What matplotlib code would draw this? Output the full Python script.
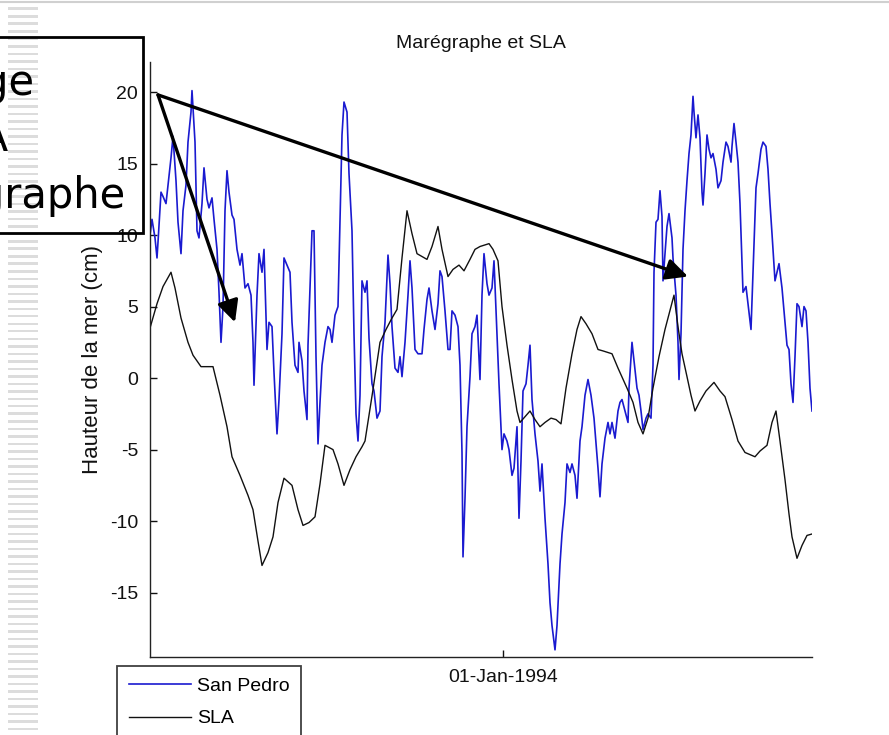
import numpy as np
import pandas as pd
import matplotlib
matplotlib.use("Agg")
import matplotlib.pyplot as plt
import matplotlib.dates as mdates
from matplotlib.lines import Line2D
from matplotlib.patches import Rectangle

plt.rcParams["axes.unicode_minus"] = False

# day 0 of the series
start = pd.Timestamp("1993-01-13")
end = pd.Timestamp("1994-11-06")

# San Pedro tide gauge (cm)
sp_days = [0, 2, 5, 7, 8, 11, 13, 16, 18, 21, 23, 26, 28, 31, 33, 36, 38, 41, 42, 45,
           47, 49, 52, 54, 57, 59, 62, 64, 67, 69, 71, 73, 75, 77, 79, 82, 84, 87, 90, 92,
           95, 98, 101, 103, 104, 107, 109, 112, 114, 117, 119, 122, 124, 127, 129, 132, 134, 137, 140, 142,
           145, 148, 149, 152, 154, 157, 158, 162, 164, 166, 168, 170, 172, 175, 178, 180, 182, 185, 188, 190,
           192, 194, 197, 199, 202, 204, 206, 208, 210, 212, 215,
           217, 219, 222, 224, 227, 230, 232, 235, 238, 240, 242, 245, 248, 250, 252, 255, 258, 260, 262,
           265, 268, 272, 274, 277, 279, 282, 285, 288, 290, 292, 295, 298, 300, 302, 305, 308, 310, 312, 313,
           315, 317, 320, 322, 325, 327, 330, 332, 334, 337, 339, 342, 344, 347, 349, 352, 354, 357, 359, 362,
           364, 367, 369, 371, 373, 376, 378, 380, 382, 385, 388, 390, 392, 395, 398, 400, 402, 405, 407, 410,
           412, 415, 417, 420, 422, 425, 427, 430, 432,
           435, 438, 441, 444, 448, 450, 452, 455, 458, 460, 462, 465, 468, 470, 472, 475, 478, 479, 482, 484,
           487, 489, 491, 493, 496, 498, 501, 503, 504, 506, 508, 510, 512, 513, 515, 517, 519, 522, 523, 526,
           528, 529, 531, 533, 535, 537, 539, 541, 543, 544, 546, 548, 550, 552, 553, 555, 557, 559, 561, 563,
           566, 568, 571, 573, 576, 578, 581, 582, 584, 586, 588, 590, 592, 593, 596, 598, 601, 603, 606, 608,
           611, 613, 616, 618, 620, 622, 625, 627, 629, 632, 634, 637, 639, 641, 643, 645, 647, 649, 652, 654,
           656, 658, 660, 662]
sp_vals = [10.0, 11.1, 9.8, 8.4, 9.5, 13.0, 12.7, 12.2, 13.5, 15.4, 16.9, 13.8, 10.9, 8.7, 11.7, 13.5, 16.5, 18.6, 20.1, 16.5,
           10.3, 9.8, 12.2, 14.7, 12.5, 11.9, 12.6, 11.1, 9.0, 6.0, 2.5, 5.0, 11.7, 14.5, 13.0, 11.4, 11.1, 9.0, 7.9, 8.7,
           6.3, 6.6, 5.8, 2.5, -0.5, 5.8, 8.7, 7.4, 9.0, 2.0, 3.9, 3.6, 0.4, -3.9, -1.5, 3.1, 8.4, 7.9, 7.4, 3.9,
           0.9, 0.4, 2.5, 1.2, -0.9, -2.9, 2.3, 10.3, 10.3, 1.5, -4.6, -1.7, 0.9, 2.5, 3.6, 3.4, 2.5, 4.4, 5.0, 10.9,
           17.0, 19.3, 18.6, 14.3, 10.3, 3.1, -2.5, -4.4, -1.2, 6.8, 6.0,
           6.8, 2.8, -0.4, -0.9, -2.8, -2.3, 1.5, 3.9, 8.6, 6.6, 3.6, 0.7, 0.4, 1.5, 0.1, 2.5, 5.8, 8.2, 6.3,
           2.0, 1.7, 1.7, 3.4, 5.5, 6.3, 4.7, 3.4, 5.2, 7.5, 7.1, 4.7, 2.0, 2.0, 4.7, 4.4, 3.6, 0.9, -5.2, -12.5,
           -8.4, -3.4, 0.1, 3.1, 3.6, 4.4, -0.1, 5.8, 8.7, 6.6, 5.8, 6.3, 8.2, 3.1, -0.4, -5.0, -3.9, -4.4, -5.0, -6.8,
           -6.3, -3.4, -9.8, -5.8, -0.9, -0.4, 0.9, 2.3, -1.5, -3.9, -5.8, -7.9, -6.0, -9.8, -13.0, -15.7, -17.3, -19.0, -17.3, -13.0,
           -10.9, -8.7, -6.0, -6.6, -6.0, -6.8, -8.4, -4.4, -3.4,
           -1.2, -0.1, -1.2, -2.8, -6.3, -8.3, -6.0, -4.2, -3.1, -3.9, -3.1, -4.2, -2.3, -1.7, -1.5, -2.3, -3.1, -0.7, 2.5, 1.2,
           -0.7, -1.2, -2.3, -3.6, -2.8, -2.5, -2.8, 0.9, 7.4, 10.9, 11.1, 13.1, 11.3, 6.8, 8.7, 10.6, 11.5, 9.8, 8.4, 5.8,
           2.5, -0.1, 3.1, 9.0, 11.7, 13.8, 15.7, 17.0, 19.7, 18.6, 16.8, 18.4, 16.8, 13.0, 12.1, 14.3, 17.0, 16.0, 15.4, 15.7,
           14.6, 13.3, 13.8, 15.1, 16.5, 16.2, 15.1, 16.2, 17.8, 16.5, 15.1, 12.2, 8.2, 6.0, 6.4, 5.2, 3.4, 7.4, 13.3, 14.3,
           16.0, 16.5, 16.2, 14.6, 12.2, 10.1, 6.8, 7.4, 8.0, 6.3, 4.7, 2.3, 2.0, -0.4, -1.7, 1.5, 5.2, 5.0, 3.6, 5.0,
           4.7, 2.5, -0.7, -2.3]

# altimetry SLA (cm)
sla_days = [0, 7, 13, 21, 25, 31, 38, 43, 51, 63, 70, 77, 82, 90, 98, 103, 108, 112, 118, 123,
            128, 134, 142, 148, 153, 159, 165, 170, 175, 183, 188, 194, 200, 206, 212, 215, 223, 230, 236, 242,
            247, 252, 257, 262, 267, 277, 282, 288, 292, 298, 303, 309, 314, 320, 325, 330, 339, 343, 348, 352,
            357, 362, 367, 370, 375, 380, 385, 390, 395, 401, 406, 411, 416, 422, 427, 431, 436, 442, 448, 453,
            462, 468, 477, 483, 488, 493, 498, 503, 509, 515, 521, 524, 528, 532, 537, 541, 545, 550, 556, 564,
            570, 575, 582, 588, 595, 605, 610, 617, 622, 626, 630, 635, 639, 642, 647, 652, 657, 662]
sla_vals = [3.5, 5.2, 6.4, 7.4, 6.3, 4.2, 2.5, 1.6, 0.8, 0.8, -1.2, -3.4, -5.5, -6.8, -8.2, -9.2, -11.4, -13.1, -12.2, -11.1,
            -8.7, -7.0, -7.5, -9.2, -10.3, -10.1, -9.7, -7.4, -4.7, -5.0, -6.0, -7.5, -6.4, -5.5, -4.8, -4.4, -0.8, 2.5, 3.4, 4.2,
            4.8, 8.4, 11.7, 10.1, 8.7, 8.3, 9.2, 10.6, 9.0, 7.1, 7.6, 7.9, 7.5, 8.3, 9.0, 9.2, 9.4, 9.0, 8.2, 5.0,
            2.3, -0.1, -2.3, -3.1, -2.7, -2.3, -2.9, -3.4, -3.1, -2.8, -2.9, -3.2, -0.7, 1.7, 3.4, 4.3, 3.8, 3.1, 2.0, 1.9,
            1.7, 0.7, -0.7, -1.7, -3.1, -3.9, -2.8, -0.7, 1.5, 3.4, 5.0, 5.8, 3.6, 1.7, 0.1, -1.2, -2.3, -1.6, -0.9, -0.3,
            -0.9, -1.3, -2.9, -4.4, -5.2, -5.5, -5.1, -4.7, -3.1, -2.3, -4.4, -7.1, -9.5, -11.1, -12.6, -11.7, -11.0, -10.9]

yticks = [-15, -10, -5, 0, 5, 10, 15, 20]

sp_t = start + pd.to_timedelta(sp_days, unit="D")
sla_t = start + pd.to_timedelta(sla_days, unit="D")

font = ["Liberation Sans", "DejaVu Sans"]

fig = plt.figure(figsize=(8.89, 7.35), dpi=100)
ax = fig.add_axes([150 / 889, 78 / 735, 662 / 889, 595 / 735])

ax.plot(sp_t, sp_vals, color="#1a1ad0", lw=1.2, label="San Pedro")
ax.plot(sla_t, sla_vals, color="#111111", lw=1.0, label="SLA")

ax.set_xlim(start, end)
ax.set_ylim(-19.5, 22.1)
ax.set_yticks(yticks)
ax.set_xticks([pd.Timestamp("1994-01-01")])
ax.xaxis.set_major_formatter(mdates.DateFormatter("%d-%b-%Y"))

for s in ["top", "right"]:
    ax.spines[s].set_visible(False)
for s in ["left", "bottom"]:
    ax.spines[s].set_color("#222222")
    ax.spines[s].set_linewidth(1.0)
ax.tick_params(direction="in", length=5, width=1, pad=8.5, labelsize=14, colors="#111111")
for lab in ax.get_xticklabels() + ax.get_yticklabels():
    lab.set_fontfamily(font)

ax.set_title("Marégraphe et SLA", fontsize=14, family=font, pad=10, color="#111111")
ax.set_ylabel("Hauteur de la mer (cm)", fontsize=16, family=font, color="#111111")
ax.yaxis.set_label_coords(-0.071, 0.5)

leg = fig.legend(loc="upper left", bbox_to_anchor=(117 / 889, 69 / 735),
                 prop={"family": font, "size": 14}, frameon=True, fancybox=False,
                 handlelength=3.2, handletextpad=0.3, borderpad=0.6, labelspacing=0.75,
                 borderaxespad=0)
leg.get_frame().set_edgecolor("#111111")
leg.get_frame().set_linewidth(1.3)

# arrows of the slide overlay
for tip in [(85, 3.9), (538, 7.1)]:
    ax.annotate("", xy=(start + pd.Timedelta(days=tip[0]), tip[1]),
                xytext=(start + pd.Timedelta(days=8), 19.8),
                arrowprops=dict(arrowstyle="-|>,head_length=0.65,head_width=0.32",
                                color="black", lw=2.4, mutation_scale=20,
                                shrinkA=0, shrinkB=0),
                annotation_clip=False)

# slide background: striped strip on the left, top border line
for yy in np.arange(10, 735, 7.5):
    fig.add_artist(Rectangle((8 / 889, 1 - yy / 735), 30 / 889, 2.5 / 735,
                             transform=fig.transFigure, color="#dcdcdc", lw=0, zorder=0))
fig.add_artist(Line2D([0, 1], [1 - 2 / 735, 1 - 2 / 735], transform=fig.transFigure,
                      color="#d0d0d0", lw=1.5))

# text box of the slide, cut by the left edge as in the original
fig.add_artist(Rectangle((-10 / 889, 1 - 233 / 735), 153 / 889, 196 / 735,
                         transform=fig.transFigure, fill=False, ec="black", lw=2))
for word, xr, yb in [("Décalage", 35, 95), ("SLA", 8, 152), ("marégraphe", 126, 208)]:
    fig.text(xr / 889, 1 - yb / 735, word, ha="right", va="baseline",
             fontsize=30, family=["DejaVu Sans"], color="black")

fig.savefig("out.png", dpi=100)
